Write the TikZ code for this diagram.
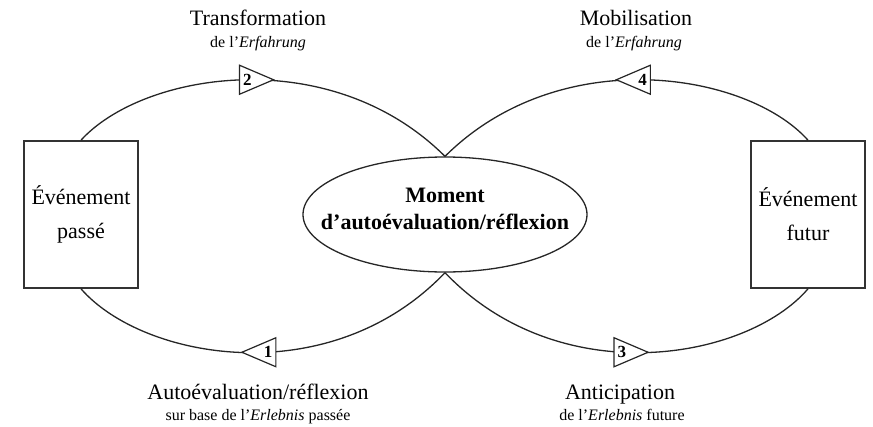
\documentclass[tikz,border=0pt]{standalone}
\usepackage{fontspec}
\setmainfont{Liberation Serif}
\usetikzlibrary{shapes.geometric}
\tikzset{
  evbox/.style={draw=black!80, line width=1.6pt, minimum width=114pt, minimum height=147pt, align=center, inner sep=0pt, font=\fontsize{22}{34}\selectfont},
  moment/.style={ellipse, draw=black!85, line width=1.3pt, fill=white, minimum width=284pt, minimum height=115pt, inner sep=0pt},
  momenttext/.style={align=center, inner sep=0pt, font=\bfseries\fontsize{22}{27}\selectfont},
  loop/.style={draw=black!85, line width=1.3pt},
  tri/.style={isosceles triangle, isosceles triangle stretches, draw=black!85, line width=1.2pt, fill=white, minimum width=29pt, minimum height=34pt, inner sep=0pt, font=\bfseries\fontsize{17}{20}\selectfont},
  lab/.style={align=center, inner sep=0pt},
}
\newcommand{\labbig}[1]{{\fontsize{22}{26}\selectfont #1}}
\newcommand{\labsmall}[1]{{\fontsize{16}{20}\selectfont #1}}
\begin{document}
\begin{tikzpicture}[x=1pt, y=-1pt]
\useasboundingbox (0,0) rectangle (873,426);
\node[evbox] (L) at (81,214.5) {Événement\\passé};
\node[evbox] (R) at (808,214.5) {Événement\\futur};
\node[moment, draw=none, fill=none] (M) at (445,214.5) {};
\draw[loop] (L.north) .. controls (143,72) and (330,42) .. (M.north)
  node[tri, pos=0.51] (t2) {2};
\draw[loop] (L.south) .. controls (143,360) and (330,393) .. (M.south)
  node[tri, shape border rotate=180, pos=0.56] (t1) {1};
\draw[loop] (M.north) .. controls (560,42) and (747,72) .. (R.north)
  node[tri, shape border rotate=180, pos=0.49] (t4) {4};
\draw[loop] (M.south) .. controls (560,393) and (747,360) .. (R.south)
  node[tri, pos=0.44] (t3) {3};
\node[moment] (Me) at (M) {};
\node[momenttext] (Mt) at (445,209) {Moment\\d’autoévaluation/réflexion};
\node[lab, anchor=base] (T2) at (258,25) {\labbig{Transformation}};
\node[lab, anchor=base] (T2b) at (258,47) {\labsmall{de l’\textit{Erfahrung}}};
\node[lab, anchor=base] (T4) at (636,25) {\labbig{Mobilisation}};
\node[lab, anchor=base] (T4b) at (634,47) {\labsmall{de l’\textit{Erfahrung}}};
\node[lab, anchor=base] (T1) at (258,399) {\labbig{Autoévaluation/réflexion}};
\node[lab, anchor=base] (T1b) at (258,420) {\labsmall{sur base de l’\textit{Erlebnis} passée}};
\node[lab, anchor=base] (T3) at (620,399) {\labbig{Anticipation}};
\node[lab, anchor=base] (T3b) at (622,420) {\labsmall{de l’\textit{Erlebnis} future}};
\end{tikzpicture}
\end{document}
